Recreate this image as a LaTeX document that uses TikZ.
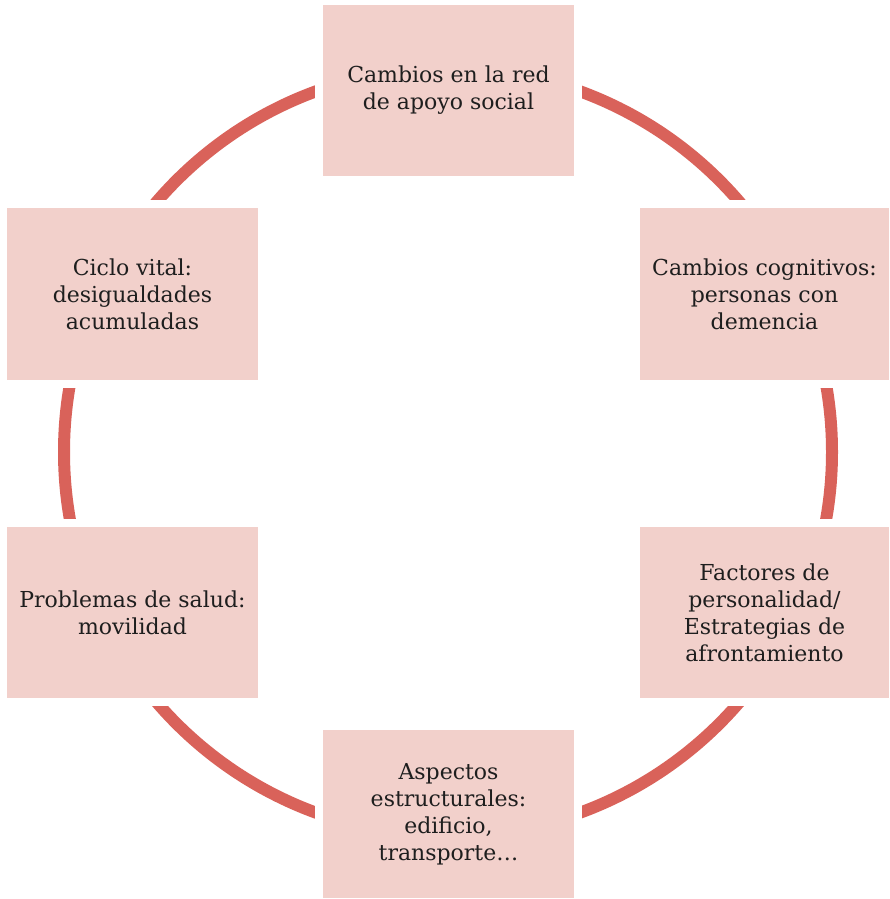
\documentclass[tikz,border=0pt]{standalone}
\usepackage{fontspec}
\setmainfont{DejaVu Serif}
\definecolor{boxc}{HTML}{F2D0CB}
\definecolor{arcc}{HTML}{D9625A}
\definecolor{txtc}{HTML}{1E1E1E}
\begin{document}
\begin{tikzpicture}[x=1pt,y=-1pt,
  box/.style={fill=boxc, inner sep=0pt, align=center, text=txtc,
    font=\fontsize{22}{27}\selectfont,
    preaction={draw=white, line width=16pt}},
  ring/.style={draw=arcc, line width=12pt}]
\useasboundingbox (0,0) rectangle (889,899);
\draw[ring] (448,452) circle[radius=384];
\node[box, minimum width=251pt, minimum height=171pt] (top) at (448.5,90.5) {Cambios en la red\\de apoyo social};
\node[box, minimum width=249pt, minimum height=172pt] (ur) at (764.5,294) {Cambios cognitivos:\\personas con\\demencia};
\node[box, minimum width=249pt, minimum height=171pt] (lr) at (764.5,612.5) {Factores de\\personalidad/\\Estrategias de\\afrontamiento};
\node[box, minimum width=251pt, minimum height=168pt] (bot) at (448.5,814) {Aspectos\\estructurales:\\edificio,\\transporte…};
\node[box, minimum width=251pt, minimum height=171pt] (ll) at (132.5,612.5) {Problemas de salud:\\movilidad};
\node[box, minimum width=251pt, minimum height=172pt] (ul) at (132.5,294) {Ciclo vital:\\desigualdades\\acumuladas};
\end{tikzpicture}
\end{document}
